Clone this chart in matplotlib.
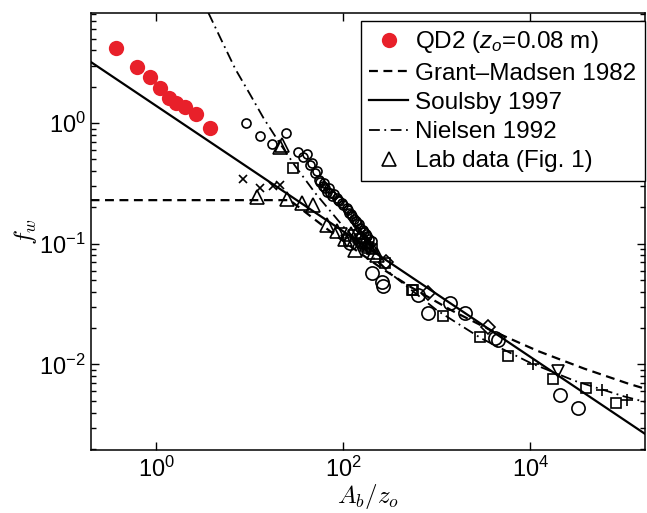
import matplotlib
matplotlib.use('Agg')
import matplotlib.pyplot as plt
from matplotlib.ticker import LogLocator, NullLocator, NullFormatter

plt.rcParams['font.family'] = ['Liberation Sans', 'DejaVu Sans']
plt.rcParams['mathtext.fontset'] = 'custom'
plt.rcParams['mathtext.rm'] = 'Liberation Sans'
plt.rcParams['mathtext.it'] = 'Liberation Sans:italic'

# QD2 field data (red dots)
qd2_x = [0.369, 0.623, 0.859, 1.10, 1.35, 1.63, 2.0, 2.64, 3.73]
qd2_fw = [4.23, 2.94, 2.39, 1.97, 1.61, 1.47, 1.35, 1.19, 0.91]

# model curves
gm_x = [0.198, 26.7, 42.5, 71.1, 113, 257, 536, 1466, 3733, 12100, 37400, 111000, 168000]
gm_fw = [0.23, 0.23, 0.174, 0.128, 0.098, 0.0625, 0.0434, 0.0278, 0.0193, 0.0129, 0.00925, 0.00694, 0.0063]
soulsby_x = [0.198, 168000]
soulsby_fw = [3.22, 0.00266]
nielsen_x = [3.6, 5, 7, 10, 14, 20, 30, 50, 100, 200, 300, 1000, 3000, 10000, 30000, 100000, 168000]
nielsen_fw = [8.2, 4.81, 2.8, 1.74, 1.1, 0.715, 0.449, 0.263, 0.1385, 0.079, 0.059, 0.0281, 0.0164, 0.0103, 0.0073, 0.00544, 0.0049]

# lab data, different marker groups
sc_x = [9.06, 12.9, 17.1, 24.1, 32.9, 37, 41, 43.8, 46, 49.6, 52, 55, 56, 60, 62, 63.4, 67, 70, 71.7, 76, 80,
        84.6, 88, 90, 95.7, 100, 108, 112, 115, 120, 125, 130, 135, 140, 145, 150, 160, 165, 175, 180, 190, 200]
sc_fw = [1.0, 0.789, 0.674, 0.826, 0.575, 0.52, 0.557, 0.446, 0.47, 0.385, 0.40, 0.34, 0.328, 0.30, 0.32, 0.289,
         0.27, 0.29, 0.263, 0.25, 0.26, 0.239, 0.23, 0.225, 0.217, 0.21, 0.198, 0.19, 0.18, 0.175, 0.17, 0.16,
         0.155, 0.15, 0.145, 0.135, 0.13, 0.125, 0.12, 0.115, 0.11, 0.105]
bc_x = [117, 200, 256, 262, 631, 807, 1377, 1995, 4170, 4500, 20650, 32400]
bc_fw = [0.101, 0.057, 0.0487, 0.0443, 0.0378, 0.0267, 0.0323, 0.0267, 0.0166, 0.0160, 0.0056, 0.00435]
sq_x = [29, 150, 170, 200, 278, 537, 558, 1167, 2884, 5700, 17260, 39200, 82200]
sq_fw = [0.424, 0.11, 0.1, 0.09, 0.069, 0.0416, 0.0416, 0.025, 0.0169, 0.0118, 0.00757, 0.00637, 0.00479]
tri_x = [11.8, 20.9, 21.8, 24.7, 35.7, 47.5, 66, 84.6, 105, 120, 133, 140, 150, 160, 170, 180, 190, 210, 230]
tri_fw = [0.2465, 0.64, 0.661, 0.236, 0.217, 0.21, 0.1436, 0.1265, 0.11, 0.12, 0.089, 0.125, 0.115, 0.11, 0.105,
          0.1, 0.095, 0.085, 0.08]
dtri_x = [95, 110, 130, 160, 185, 19800]
dtri_fw = [0.12, 0.105, 0.115, 0.1, 0.092, 0.00875]
dia_x = [285, 807, 3540]
dia_fw = [0.07, 0.039, 0.0204]
xm_x = [8.5, 12.8, 17.5, 20.9]
xm_fw = [0.346, 0.289, 0.304, 0.308]
plus_x = [10700, 57700, 107000]
plus_fw = [0.01, 0.0062, 0.0051]

fig = plt.figure(figsize=(6.47, 5.13), dpi=100)
ax = fig.add_axes([0.140, 0.123, 0.857, 0.852])

ax.plot(gm_x, gm_fw, color='k', lw=1.6, ls=(0, (4, 2.5)), label='Grant\u2013Madsen 1982')
ax.plot(soulsby_x, soulsby_fw, color='k', lw=1.6, ls='-', label='Soulsby 1997')
ax.plot(nielsen_x, nielsen_fw, color='k', lw=1.3, ls=(0, (6, 2.5, 1, 2.5)), label='Nielsen 1992')

mk = dict(ls='none', mfc='none', mec='k', mew=1.2)
ax.plot(sc_x, sc_fw, marker='o', ms=6.5, **mk)
ax.plot(bc_x, bc_fw, marker='o', ms=9.5, **mk)
ax.plot(sq_x, sq_fw, marker='s', ms=7, **mk)
ax.plot(dtri_x, dtri_fw, marker='v', ms=9, **mk)
ax.plot(dia_x, dia_fw, marker='D', ms=7, **mk)
ax.plot(xm_x, xm_fw, marker='x', ms=6, **mk)
ax.plot(plus_x, plus_fw, marker='+', ms=9, **mk)
tri, = ax.plot(tri_x, tri_fw, marker='^', ms=10, label='Lab data (Fig. 1)', **mk)
qd, = ax.plot(qd2_x, qd2_fw, 'o', color='#e8202a', ms=11, mec='none', label='QD2 ($z_o$=0.08 m)')

ax.set_xscale('log')
ax.set_yscale('log')
ax.set_xlim(0.198, 1.68e5)
ax.set_ylim(0.00196, 8.2)

ax.set_xticks([1, 1e2, 1e4])
ax.xaxis.set_minor_locator(NullLocator())
ax.set_yticks([1e-2, 1e-1, 1])
ax.yaxis.set_minor_locator(LogLocator(base=10, subs=range(2, 10)))
ax.yaxis.set_minor_formatter(NullFormatter())
ax.tick_params(which='both', direction='in', top=True, right=True, labelsize=17, width=1)
ax.tick_params(which='major', length=6)
ax.tick_params(which='minor', length=3.5)
ax.tick_params(axis='x', pad=5)
for s in ax.spines.values():
    s.set_linewidth(1.1)

ax.set_xlabel('$A_b/z_o$', fontsize=18, math_fontfamily='cm', labelpad=0)
ax.set_ylabel('$f_w$', fontsize=18, math_fontfamily='cm', labelpad=0)

h, l = ax.get_legend_handles_labels()
order = [l.index('QD2 ($z_o$=0.08 m)'), 0, 1, 2, l.index('Lab data (Fig. 1)')]
leg = ax.legend([h[i] for i in order], [l[i] for i in order], loc='upper right',
                bbox_to_anchor=(1.0, 0.982), fontsize=17.5, frameon=True, fancybox=False,
                edgecolor='k', framealpha=1, handlelength=1.6, handletextpad=0.3,
                labelspacing=0.3, borderpad=0.35, borderaxespad=0)
leg.get_frame().set_linewidth(1.0)

fig.savefig('out.png', dpi=100)
